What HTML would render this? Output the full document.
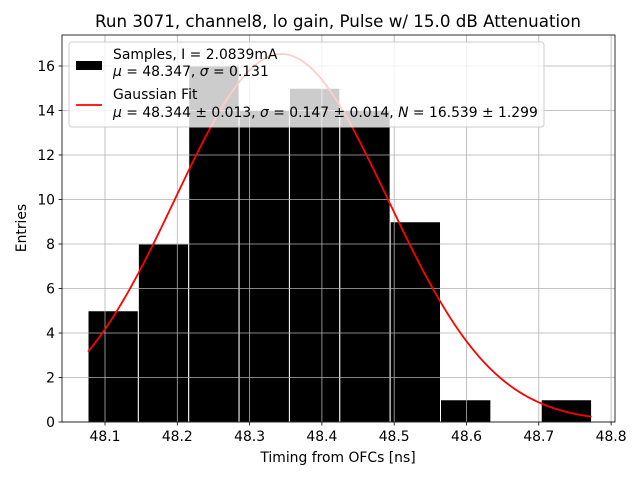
<!DOCTYPE html>
<html><head><meta charset="utf-8"><style>
body{margin:0;background:#fff}
text{font-family:"DejaVu Sans","Liberation Sans",sans-serif;}
</style></head><body>
<svg id="chart" width="640" height="480" xmlns="http://www.w3.org/2000/svg">
<rect width="640" height="480" fill="#fff"/>
<g id="bars"></g>
<g id="grid"></g>
<path id="fit" fill="none" stroke="#ff0000" stroke-width="1.8"/>
<rect x="62" y="35" width="553" height="387" fill="none" stroke="#000" stroke-width="0.8"/>
<g id="ticks"></g>
<text x="338" y="27" font-size="16.7" text-anchor="middle">Run 3071, channel8, lo gain, Pulse w/ 15.0 dB Attenuation</text>
<text x="338" y="462" font-size="13.9" text-anchor="middle">Timing from OFCs [ns]</text>
<text x="26" y="228" font-size="13.9" text-anchor="middle" transform="rotate(-90 26 228)">Entries</text>
<g>
<rect x="69" y="42" width="475" height="85" rx="3" fill="#fff" fill-opacity="0.8" stroke="#ccc" stroke-width="1"/>
<rect x="76" y="61" width="26" height="9" fill="#000"/>
<text x="113" y="59" font-size="13.9">Samples, I = 2.0839mA</text>
<text x="113" y="76" font-size="13.9"><tspan font-style="italic">μ</tspan> = 48.347, <tspan font-style="italic">σ</tspan> = 0.131</text>
<line x1="76" y1="105" x2="102" y2="105" stroke="#f00" stroke-width="1.8"/>
<text x="113" y="99" font-size="13.9">Gaussian Fit</text>
<text x="113" y="117" font-size="13.9"><tspan font-style="italic">μ</tspan> = 48.344 ± 0.013, <tspan font-style="italic">σ</tspan> = 0.147 ± 0.014, <tspan font-style="italic">N</tspan> = 16.539 ± 1.299</text>
</g>
</svg>
<script>
const counts=[5,8,16,14,15,14,9,1,0,1];
const binStart=48.0765, binWidth=0.06965;
const xTicks=[48.1,48.2,48.3,48.4,48.5,48.6,48.7,48.8];
const yTicks=[0,2,4,6,8,10,12,14,16];
const fitMu=48.344, fitSigma=0.147, fitN=16.539;
const NS="http://www.w3.org/2000/svg";
const X=v=>105+(v-48.1)*723, Y=v=>422-v*22.25;
function mk(t,a,p){const e=document.createElementNS(NS,t);for(const k in a)e.setAttribute(k,a[k]);p.appendChild(e);return e;}
const bars=document.getElementById('bars'),grid=document.getElementById('grid'),ticks=document.getElementById('ticks');
counts.forEach((c,i)=>{if(!c)return;const x0=X(binStart+i*binWidth),x1=X(binStart+(i+1)*binWidth);
const r=mk('rect',{x:x0,y:Y(c),width:x1-x0,height:Y(0)-Y(c),fill:'#000',stroke:'#fff','stroke-width':1},bars);

});
xTicks.forEach(t=>{const x=X(t);
mk('line',{x1:x,x2:x,y1:35,y2:422,stroke:'#b0b0b0','stroke-width':0.8},grid);
mk('line',{x1:x,x2:x,y1:422,y2:425.5,stroke:'#000','stroke-width':0.8},ticks);
const l=mk('text',{x:x,y:441,'font-size':13.9,'text-anchor':'middle'},ticks);l.textContent=t.toFixed(1);

});
yTicks.forEach(t=>{const y=Y(t);
mk('line',{x1:62,x2:615,y1:y,y2:y,stroke:'#b0b0b0','stroke-width':0.8},grid);
mk('line',{x1:58.5,x2:62,y1:y,y2:y,stroke:'#000','stroke-width':0.8},ticks);
const l=mk('text',{x:55,y:y+5,'font-size':13.9,'text-anchor':'end'},ticks);l.textContent=t;

});
let d='';const a=binStart,b=binStart+counts.length*binWidth;
for(let i=0;i<=200;i++){const v=a+(b-a)*i/200;const f=fitN*Math.exp(-((v-fitMu)**2)/(2*fitSigma*fitSigma));d+=(i?'L':'M')+X(v).toFixed(2)+','+Y(f).toFixed(2);}
document.getElementById('fit').setAttribute('d',d);
</script>
</body></html>
